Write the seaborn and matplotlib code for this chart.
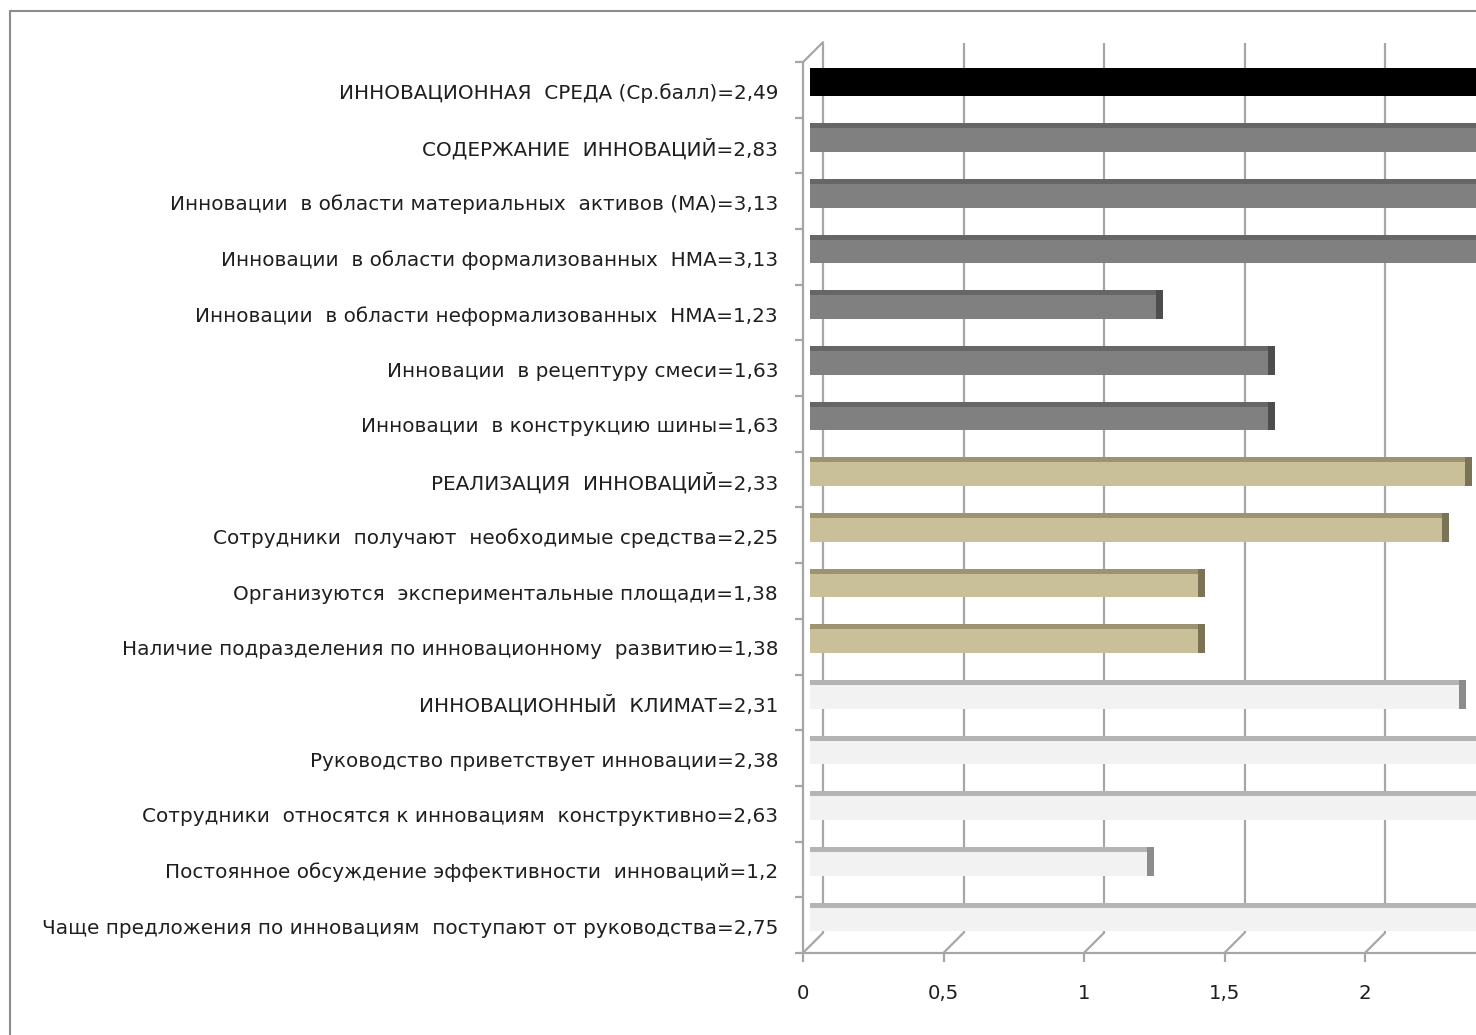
import numpy as np
import pandas as pd
import seaborn as sns
import matplotlib
matplotlib.use("Agg")
import matplotlib.pyplot as plt
from matplotlib import transforms as mtransforms
from matplotlib.patches import ConnectionPatch
from matplotlib.lines import Line2D

labels = [
    "ИННОВАЦИОННАЯ  СРЕДА (Ср.балл)=2,49",
    "СОДЕРЖАНИЕ  ИННОВАЦИЙ=2,83",
    "Инновации  в области материальных  активов (МА)=3,13",
    "Инновации  в области формализованных  НМА=3,13",
    "Инновации  в области неформализованных  НМА=1,23",
    "Инновации  в рецептуру смеси=1,63",
    "Инновации  в конструкцию шины=1,63",
    "РЕАЛИЗАЦИЯ  ИННОВАЦИЙ=2,33",
    "Сотрудники  получают  необходимые средства=2,25",
    "Организуются  экспериментальные площади=1,38",
    "Наличие подразделения по инновационному  развитию=1,38",
    "ИННОВАЦИОННЫЙ  КЛИМАТ=2,31",
    "Руководство приветствует инновации=2,38",
    "Сотрудники  относятся к инновациям  конструктивно=2,63",
    "Постоянное обсуждение эффективности  инноваций=1,2",
    "Чаще предложения по инновациям  поступают от руководства=2,75",
]
values = [2.49, 2.83, 3.13, 3.13, 1.23, 1.63, 1.63, 2.33, 2.25, 1.38, 1.38,
          2.31, 2.38, 2.63, 1.2, 2.75]
groups = ["total"] + ["content"] * 6 + ["impl"] * 4 + ["climate"] * 5
xticks = [0, 0.5, 1, 1.5, 2]
xticklabels = ["0", "0,5", "1", "1,5", "2"]

front_col = {"total": "#000000", "content": "#808080", "impl": "#c9c09a", "climate": "#f2f2f2"}
top_col = {"total": "#000000", "content": "#666666", "impl": "#9c9470", "climate": "#b4b4b4"}
cap_col = {"total": "#000000", "content": "#4d4d4d", "impl": "#7a7356", "climate": "#8c8c8c"}

sns.set_style("white")
plt.rcParams["font.family"] = ["DejaVu Sans"]

W, H, DPI = 1476, 1035, 100
fig = plt.figure(figsize=(W / DPI, H / DPI), dpi=DPI)

px_per_unit_x = 281.0
px_per_cat = 55.67
ax_left_px, ax_top_px, ax_bottom_px = 810, 43, 952
ax = fig.add_axes([ax_left_px / W, 1 - ax_bottom_px / H, 1 - ax_left_px / W,
                   (ax_bottom_px - ax_top_px) / H])

df = pd.DataFrame({"label": labels, "value": values, "group": groups})
palette = {l: front_col[g] for l, g in zip(labels, groups)}
sns.barplot(data=df, x="value", y="label", hue="label", palette=palette, legend=False,
            orient="h", width=0.52, saturation=1, linewidth=0, ax=ax, zorder=2)

pos = np.arange(len(labels))
vals = np.array(values)
bar_h = 0.52
# top face strip and right-end cap for a 3D look
ax.barh(pos - bar_h / 2 + 0.045, vals, height=0.09,
        color=[top_col[g] for g in groups], linewidth=0, zorder=3)
ax.barh(pos, 0.025, left=vals, height=bar_h,
        color=[cap_col[g] for g in groups], linewidth=0, zorder=3)

ax.set_xlim(0, (W - ax_left_px) / px_per_unit_x)
ax.set_ylim(15 + (ax_bottom_px - 917) / px_per_cat, -(82 - ax_top_px) / px_per_cat)
for s in ax.spines.values():
    s.set_visible(False)

front = mtransforms.offset_copy(ax.transData, fig=fig, x=-7, y=-8, units="dots")
back = mtransforms.offset_copy(ax.transData, fig=fig, x=13, y=12, units="dots")
gcol = "#a6a6a6"
lw = 1.6
ylo, yhi = -0.5, len(labels) - 0.5

# back wall gridlines
ax.vlines(xticks, ylo, yhi, transform=back, color=gcol, lw=lw, zorder=0.5)
# front axes
ax.plot([0, 0], [ylo, yhi], transform=front, color=gcol, lw=lw, clip_on=False, zorder=4)
ax.plot([0, 3], [yhi, yhi], transform=front, color=gcol, lw=lw, clip_on=False, zorder=4)
# left axis ticks
ax.hlines(np.arange(ylo, yhi + 0.01, 1.0), -8 / px_per_unit_x, 0, transform=front,
          color=gcol, lw=lw, clip_on=False, zorder=4)
# bottom axis ticks
ax.vlines(xticks, yhi, yhi + 9 / px_per_cat, transform=front, color=gcol, lw=lw,
          clip_on=False, zorder=4)
# depth connectors
for t in xticks:
    cp = ConnectionPatch(xyA=(t, yhi), coordsA=front, xyB=(t, yhi), coordsB=back,
                         color=gcol, lw=lw, zorder=0.6)
    fig.add_artist(cp)
cp = ConnectionPatch(xyA=(0, ylo), coordsA=front, xyB=(0, ylo), coordsB=back,
                     color=gcol, lw=lw, zorder=0.6)
fig.add_artist(cp)

# tick labels
ax.set_yticks(pos)
ax.set_yticklabels(labels)
ax.set_xticks(xticks)
ax.set_xticklabels(xticklabels)
ax.tick_params(axis="y", length=0, pad=23, labelsize=14.45, labelcolor="#1f1f1f")
ax.tick_params(axis="x", length=0, pad=23, labelsize=14.2, labelcolor="#1f1f1f")
shift_y = mtransforms.ScaledTranslation(0, -9 / DPI, fig.dpi_scale_trans)
for lab in ax.get_yticklabels():
    lab.set_transform(lab.get_transform() + shift_y)
shift_x = mtransforms.ScaledTranslation(-7 / DPI, 0, fig.dpi_scale_trans)
for lab in ax.get_xticklabels():
    lab.set_transform(lab.get_transform() + shift_x)
ax.set_xlabel("")
ax.set_ylabel("")

# outer chart frame
fcol = "#8c8c8c"
fig.add_artist(Line2D([10 / W, 1], [1 - 11 / H, 1 - 11 / H], transform=fig.transFigure,
                      color=fcol, lw=1.5))
fig.add_artist(Line2D([10 / W, 10 / W], [0, 1 - 11 / H], transform=fig.transFigure,
                      color=fcol, lw=1.5))

fig.savefig("out.png", dpi=DPI)
